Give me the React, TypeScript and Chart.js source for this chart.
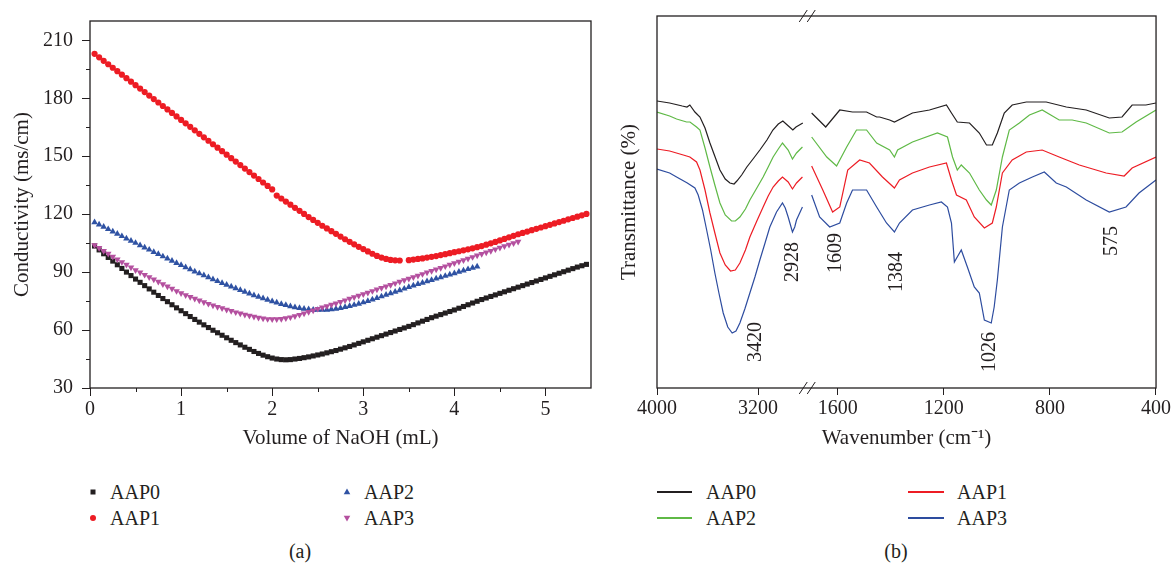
import React, { useEffect, useRef } from "react";
import { Chart, registerables } from "chart.js";

Chart.register(...registerables);

const FONT = "'Liberation Serif', 'Times New Roman', serif";
const INK = "#231f20";

// ================= Panel (a): conductometric titration =================
const VOLUME_ML = [
  0.05, 0.1, 0.15, 0.2, 0.25, 0.3, 0.35, 0.4, 0.45, 0.5,
  0.55, 0.6, 0.65, 0.7, 0.75, 0.8, 0.85, 0.9, 0.95, 1.0,
  1.05, 1.1, 1.15, 1.2, 1.25, 1.3, 1.35, 1.4, 1.45, 1.5,
  1.55, 1.6, 1.65, 1.7, 1.75, 1.8, 1.85, 1.9, 1.95, 2.0,
  2.05, 2.1, 2.15, 2.2, 2.25, 2.3, 2.35, 2.4, 2.45, 2.5,
  2.55, 2.6, 2.65, 2.7, 2.75, 2.8, 2.85, 2.9, 2.95, 3.0,
  3.05, 3.1, 3.15, 3.2, 3.25, 3.3, 3.35, 3.4, 3.45, 3.5,
  3.55, 3.6, 3.65, 3.7, 3.75, 3.8, 3.85, 3.9, 3.95, 4.0,
  4.05, 4.1, 4.15, 4.2, 4.25, 4.3, 4.35, 4.4, 4.45, 4.5,
  4.55, 4.6, 4.65, 4.7, 4.75, 4.8, 4.85, 4.9, 4.95, 5.0,
  5.05, 5.1, 5.15, 5.2, 5.25, 5.3, 5.35, 5.4, 5.45,
];

const AAP0_COND = [
  103.5, 101.5, 99.5, 97.6, 95.7, 93.8, 91.9, 90.0, 88.2, 86.4,
  84.7, 83.0, 81.3, 79.6, 77.9, 76.3, 74.7, 73.1, 71.5, 70.0,
  68.5, 67.0, 65.5, 64.1, 62.7, 61.3, 59.9, 58.6, 57.3, 56.0,
  54.7, 53.5, 52.3, 51.1, 50.0, 48.9, 47.9, 47.0, 46.2, 45.5,
  45.0, 44.7, 44.6, 44.7, 45.0, 45.3, 45.7, 46.1, 46.6, 47.1,
  47.6, 48.2, 48.8, 49.4, 50.1, 50.8, 51.5, 52.3, 53.1, 53.9,
  54.7, 55.5, 56.3, 57.1, 57.9, 58.7, 59.5, 60.3, 61.1, 61.9,
  62.8, 63.7, 64.6, 65.5, 66.4, 67.2, 68.0, 68.8, 69.6, 70.4,
  71.3, 72.2, 73.1, 74.0, 74.9, 75.8, 76.6, 77.4, 78.2, 79.0,
  79.8, 80.6, 81.4, 82.2, 83.0, 83.8, 84.6, 85.4, 86.2, 87.0,
  87.8, 88.6, 89.4, 90.2, 91.0, 91.8, 92.6, 93.3, 94.0,
];

const AAP1_COND = [
  203.0, 201.2, 199.4, 197.6, 195.8, 194.0, 192.2, 190.4, 188.6, 186.8,
  185.0, 183.2, 181.4, 179.6, 177.8, 176.0, 174.2, 172.4, 170.6, 168.8,
  167.0, 165.2, 163.4, 161.6, 159.8, 158.0, 156.2, 154.4, 152.6, 150.8,
  149.0, 147.2, 145.4, 143.6, 141.8, 140.0, 138.2, 136.4, 134.6, 132.8,
  129.6, 128.1, 126.5, 124.9, 123.3, 121.7, 120.1, 118.5, 117.0, 115.5,
  114.0, 112.6, 111.2, 109.8, 108.4, 107.0, 105.7, 104.4, 103.1, 101.9,
  100.7, 99.5, 98.4, 97.5, 96.8, 96.3, 96.1, 96.0, null, 96.2,
  96.5, 96.8, 97.1, 97.5, 97.9, 98.3, 98.8, 99.3, 99.8, 100.3,
  100.8, 101.3, 101.8, 102.3, 102.9, 103.5, 104.2, 104.9, 105.6, 106.4,
  107.2, 108.0, 108.8, 109.6, 110.3, 111.0, 111.7, 112.4, 113.1, 113.8,
  114.5, 115.2, 115.9, 116.6, 117.3, 118.0, 118.7, 119.4, 120.1,
];

const AAP2_COND = [
  115.8, 114.6, 113.4, 112.2, 111.0, 109.8, 108.6, 107.4, 106.2, 105.1,
  103.9, 102.7, 101.6, 100.4, 99.3, 98.1, 97.0, 95.8, 94.7, 93.6,
  92.5, 91.4, 90.3, 89.3, 88.3, 87.3, 86.3, 85.3, 84.3, 83.4,
  82.5, 81.6, 80.7, 79.8, 78.9, 78.0, 77.2, 76.4, 75.6, 74.9,
  74.2, 73.5, 72.9, 72.3, 71.8, 71.4, 71.0, 70.7, 70.5, 70.4,
  70.4, 70.5, 70.7, 71.0, 71.4, 71.9, 72.4, 73.0, 73.6, 74.3,
  75.0, 75.8, 76.6, 77.4, 78.2, 79.0, 79.8, 80.6, 81.4, 82.2,
  83.0, 83.8, 84.5, 85.2, 85.9, 86.6, 87.3, 88.0, 88.7, 89.4,
  90.1, 90.8, 91.5, 92.2, 92.9,
];

const AAP3_COND = [
  104.0, 102.5, 101.0, 99.5, 98.0, 96.6, 95.2, 93.8, 92.4, 91.0,
  89.8, 88.6, 87.4, 86.2, 85.0, 83.8, 82.6, 81.4, 80.2, 79.1,
  78.1, 77.1, 76.2, 75.3, 74.4, 73.6, 72.8, 72.0, 71.3, 70.6,
  69.9, 69.2, 68.6, 68.0, 67.4, 66.9, 66.4, 66.0, 65.7, 65.6,
  65.6, 65.8, 66.1, 66.6, 67.2, 67.9, 68.6, 69.4, 70.2, 71.0,
  71.7, 72.4, 73.1, 73.8, 74.6, 75.4, 76.2, 77.0, 77.8, 78.6,
  79.4, 80.2, 81.0, 81.8, 82.6, 83.4, 84.2, 85.0, 85.8, 86.6,
  87.4, 88.2, 89.0, 89.8, 90.6, 91.4, 92.2, 93.0, 93.8, 94.6,
  95.4, 96.2, 97.0, 97.8, 98.6, 99.4, 100.2, 101.0, 101.8, 102.6,
  103.4, 104.2, 105.0, 105.8,
];

const A_X_TICKS = [0, 1, 2, 3, 4, 5];
const A_X_MINOR = [0.5, 1.5, 2.5, 3.5, 4.5];
const A_Y_TICKS = [30, 60, 90, 120, 150, 180, 210];
const A_Y_MINOR = [45, 75, 105, 135, 165, 195];
const SERIES_NAMES = ["AAP0", "AAP1", "AAP2", "AAP3"];

// ================= Panel (b): FTIR spectra =================
const AAP0_WN = [
  4000, 3900, 3800, 3763, 3740, 3700, 3660, 3620, 3581, 3540, 3502, 3460, 3423, 3390, 3368, 3330, 3289, 3240,
  3186, 3130, 3083, 3040, 3004, 2960, 2925, 2900, 2846,
  1698, 1645, 1592, 1544, 1491, 1453, 1442, 1404, 1386, 1318, 1254, 1190, 1171, 1149, 1103, 1066, 1039, 1017,
  998, 972, 942, 889, 814, 738, 663, 576, 528, 490, 438, 400,
];
const AAP0_T = [
  287, 285, 282, 281, 283, 276, 271, 260, 245, 231, 218, 209, 205, 204, 207, 213, 221, 229,
  238, 248, 258, 264, 267, 262, 258, 261, 265,
  275, 261, 278, 276, 276, 271, 271, 268, 266, 275, 278, 283, 275, 266, 265, 255, 243, 243,
  255, 275, 283, 286, 286, 281, 278, 270, 271, 283, 283, 285,
];

const AAP1_WN = [
  4000, 3900, 3792, 3740, 3687, 3660, 3620, 3581, 3540, 3502, 3460, 3418, 3380, 3344, 3300, 3265, 3210, 3160,
  3120, 3081, 3040, 3007, 2962, 2928, 2896, 2849,
  1698, 1656, 1619, 1592, 1562, 1517, 1480, 1431, 1386, 1367, 1318, 1254, 1190, 1171, 1152, 1115, 1085, 1047,
  1017, 1002, 979, 942, 889, 829, 765, 689, 588, 520, 490, 400,
];
const AAP1_T = [
  239, 237, 233, 231, 226, 218, 198, 175, 154, 135, 123, 117, 118, 125, 138, 151, 167, 181,
  192, 201, 207, 211, 206, 199, 205, 211,
  222, 198, 176, 181, 218, 228, 225, 211, 200, 208, 215, 221, 225, 208, 193, 188, 171, 160,
  165, 181, 215, 228, 236, 238, 231, 223, 215, 212, 220, 231,
];

const AAP2_WN = [
  4000, 3900, 3845, 3792, 3766, 3739, 3687, 3660, 3620, 3581, 3540, 3502, 3460, 3410, 3380, 3344, 3300, 3265,
  3210, 3160, 3120, 3081, 3040, 3007, 2962, 2928, 2896, 2849,
  1698, 1641, 1604, 1566, 1529, 1491, 1453, 1404, 1386, 1374, 1318, 1224, 1186, 1167, 1149, 1134, 1103, 1066, 1039, 1021,
  1002, 979, 953, 915, 877, 829, 765, 716, 663, 576, 528, 475, 400,
];
const AAP2_T = [
  276, 272, 269, 267, 266, 266, 261, 258, 240, 221, 202, 185, 173, 167, 167, 171, 179, 188,
  200, 211, 221, 231, 239, 245, 238, 229, 235, 241,
  251, 231, 222, 241, 258, 258, 245, 238, 231, 238, 246, 255, 251, 231, 218, 223, 215, 198, 188, 183,
  198, 231, 258, 265, 273, 278, 268, 268, 265, 255, 256, 266, 278,
];

const AAP3_WN = [
  4000, 3900, 3845, 3760, 3700, 3674, 3640, 3607, 3575, 3542, 3510, 3476, 3440, 3405, 3375, 3344, 3305, 3265,
  3225, 3186, 3145, 3107, 3054, 3007, 2985, 2962, 2928, 2910, 2896, 2849,
  1698, 1668, 1630, 1592, 1566, 1544, 1491, 1453, 1416, 1386, 1367, 1318, 1254, 1209, 1186, 1171, 1160, 1134, 1111, 1085,
  1066, 1047, 1021, 1010, 998, 979, 953, 915, 866, 821, 776, 738, 663, 576, 513, 464, 400,
];
const AAP3_T = [
  219, 215, 211, 205, 200, 193, 178, 158, 138, 115, 95, 75, 61, 55, 57, 65, 79, 95,
  111, 128, 145, 161, 176, 185, 180, 171, 156, 161, 168, 181,
  193, 171, 161, 165, 185, 198, 198, 181, 165, 156, 165, 178, 183, 186, 181, 165, 126, 138, 121, 101,
  95, 68, 65, 81, 108, 161, 198, 205, 211, 216, 205, 201, 188, 176, 181, 195, 208,
];

const B_X_TICKS = [4000, 3200, 1600, 1200, 800, 400];
const PEAK_LABELS = ["3420", "2928", "1609", "1384", "1026", "575"];
const PEAK_WN = [3420, 2928, 1609, 1384, 1026, 575];
const PEAK_LABEL_T = [46, 126, 135, 116, 36, 147];

const COLORS = {
  a: [INK, "#ed1c24", "#2f52a3", "#b4509f"],
  b: [INK, "#ed1c24", "#5fb946", "#2d4c9f"],
};

// broken wavenumber axis: 4000-2800 segment (compressed) and 1700-400 segment
const HIGH_SCALE = 0.1266;
const LOW_SCALE = 0.2658;
const LOW_OFFSET = 181;
function toAxis(w: number) {
  return w > 2000 ? (4000 - w) * HIGH_SCALE : LOW_OFFSET + (1600 - w) * LOW_SCALE;
}

function spectrum(wn: number[], t: number[]) {
  const pts: any[] = [];
  for (let i = 0; i < wn.length; i++) {
    if (i > 0 && wn[i - 1] > 2000 && wn[i] < 2000) {
      pts.push({ x: (toAxis(wn[i - 1]) + toAxis(wn[i])) / 2, y: null });
    }
    pts.push({ x: toAxis(wn[i]), y: t[i] });
  }
  return pts;
}

function scatterPoints(vals: (number | null)[]) {
  const pts: any[] = [];
  vals.forEach((v, i) => {
    if (v !== null) pts.push({ x: VOLUME_ML[i], y: v });
  });
  return pts;
}

const frameAPlugin = {
  id: "frameA",
  afterDraw(chart: any) {
    const { ctx, chartArea, scales } = chart;
    const { left, right, top, bottom } = chartArea;
    ctx.save();
    ctx.strokeStyle = INK;
    ctx.lineWidth = 1.3;
    ctx.strokeRect(left, top, right - left, bottom - top);
    ctx.lineWidth = 1;
    ctx.beginPath();
    for (const v of A_X_MINOR) {
      const px = Math.round(scales.x.getPixelForValue(v)) + 0.5;
      ctx.moveTo(px, bottom);
      ctx.lineTo(px, bottom + 4);
    }
    for (const v of A_Y_MINOR) {
      const py = Math.round(scales.y.getPixelForValue(v)) + 0.5;
      ctx.moveTo(left - 4, py);
      ctx.lineTo(left, py);
    }
    ctx.stroke();
    ctx.restore();
  },
};

const PEAK_DX = [25, 0, 0, 2, 0, 2];

const frameBPlugin = {
  id: "frameB",
  afterDraw(chart: any) {
    const { ctx, chartArea, scales } = chart;
    const { left, right, top, bottom } = chartArea;
    ctx.save();
    ctx.strokeStyle = INK;
    ctx.lineWidth = 1.3;
    ctx.strokeRect(left, top, right - left, bottom - top);

    // axis break marks
    const lastHigh = Math.min(...AAP0_WN.filter((w) => w > 2000));
    const firstLow = Math.max(...AAP0_WN.filter((w) => w < 2000));
    const xb = (scales.x.getPixelForValue(toAxis(lastHigh)) + scales.x.getPixelForValue(toAxis(firstLow))) / 2;
    ctx.lineWidth = 1;
    ctx.beginPath();
    for (const yy of [top, bottom]) {
      for (const off of [-4, 4]) {
        ctx.moveTo(xb + off - 4, yy + 6);
        ctx.lineTo(xb + off + 4, yy - 6);
      }
    }
    ctx.stroke();

    // peak annotations
    ctx.font = `20px ${FONT}`;
    ctx.fillStyle = INK;
    ctx.textAlign = "center";
    ctx.textBaseline = "middle";
    PEAK_LABELS.forEach((txt, i) => {
      const px = scales.x.getPixelForValue(toAxis(PEAK_WN[i])) + PEAK_DX[i];
      const py = scales.y.getPixelForValue(PEAK_LABEL_T[i]);
      ctx.save();
      ctx.translate(px, py);
      ctx.rotate(-Math.PI / 2);
      ctx.fillText(txt, 0, 0);
      ctx.restore();
    });
    ctx.restore();
  },
};

function ChartA() {
  const ref = useRef<HTMLCanvasElement>(null);
  useEffect(() => {
    Chart.defaults.font.family = FONT;
    Chart.defaults.color = INK;
    const c = new Chart(ref.current!, {
      type: "scatter",
      data: {
        datasets: [
          { label: SERIES_NAMES[0], data: scatterPoints(AAP0_COND), pointStyle: "rect", pointRadius: 3.6, backgroundColor: COLORS.a[0], borderWidth: 0, order: 3 },
          { label: SERIES_NAMES[1], data: scatterPoints(AAP1_COND), pointStyle: "circle", pointRadius: 3.1, backgroundColor: COLORS.a[1], borderWidth: 0, order: 2 },
          { label: SERIES_NAMES[2], data: scatterPoints(AAP2_COND), pointStyle: "triangle", pointRadius: 3.8, backgroundColor: COLORS.a[2], borderWidth: 0, order: 1 },
          { label: SERIES_NAMES[3], data: scatterPoints(AAP3_COND), pointStyle: "triangle", pointRotation: 180, pointRadius: 3.8, backgroundColor: COLORS.a[3], borderWidth: 0, order: 0 },
        ] as any,
      },
      options: {
        responsive: false,
        animation: false,
        events: [],
        layout: { padding: { top: 16, right: 9, left: 0, bottom: 0 } },
        plugins: { legend: { display: false }, tooltip: { enabled: false } },
        scales: {
          x: {
            type: "linear",
            min: 0,
            max: 5.5,
            afterBuildTicks: (s: any) => { s.ticks = A_X_TICKS.map((v) => ({ value: v })); },
            afterFit: (s: any) => { s.height = 72; },
            ticks: { font: { size: 20 }, color: INK, padding: 2, maxRotation: 0, autoSkip: false },
            grid: { drawOnChartArea: false, drawTicks: true, tickLength: 8, color: INK, lineWidth: 1 },
            border: { display: false },
            title: { display: true, text: "Volume of NaOH (mL)", font: { size: 21 }, color: INK, padding: { top: 0, bottom: 9 } },
          },
          y: {
            type: "linear",
            min: 30,
            max: 220,
            afterBuildTicks: (s: any) => { s.ticks = A_Y_TICKS.map((v) => ({ value: v })); },
            afterFit: (s: any) => { s.width = 90; },
            ticks: { font: { size: 20 }, color: INK, padding: 9 },
            grid: { drawOnChartArea: false, drawTicks: true, tickLength: 8, color: INK, lineWidth: 1 },
            border: { display: false },
            title: { display: true, text: "Conductivity (ms/cm)", font: { size: 21 }, color: INK, padding: { top: 10, bottom: 0 } },
          },
        },
      } as any,
      plugins: [frameAPlugin],
    });
    return () => c.destroy();
  }, []);
  return <canvas ref={ref} width={600} height={460} style={{ position: "absolute", left: 0, top: 0 }} />;
}

function ChartB() {
  const ref = useRef<HTMLCanvasElement>(null);
  useEffect(() => {
    Chart.defaults.font.family = FONT;
    Chart.defaults.color = INK;
    const series = [
      [AAP0_WN, AAP0_T],
      [AAP1_WN, AAP1_T],
      [AAP2_WN, AAP2_T],
      [AAP3_WN, AAP3_T],
    ];
    const c = new Chart(ref.current!, {
      type: "line",
      data: {
        datasets: series.map(([wn, t], i) => ({
          label: SERIES_NAMES[i],
          data: spectrum(wn as number[], t as number[]),
          borderColor: COLORS.b[i],
          borderWidth: 1.2,
          pointRadius: 0,
          fill: false,
          tension: 0,
          spanGaps: false,
        })) as any,
      },
      options: {
        responsive: false,
        animation: false,
        events: [],
        layout: { padding: { top: 16, right: 16, left: 0, bottom: 0 } },
        plugins: { legend: { display: false }, tooltip: { enabled: false } },
        scales: {
          x: {
            type: "linear",
            min: 0,
            max: 500,
            afterBuildTicks: (s: any) => { s.ticks = B_X_TICKS.map((w) => ({ value: toAxis(w) })); },
            afterFit: (s: any) => { s.height = 72; },
            ticks: {
              font: { size: 20 },
              color: INK,
              padding: 2,
              maxRotation: 0,
              autoSkip: false,
              callback: (_v: any, i: number) => String(B_X_TICKS[i]),
            },
            grid: { drawOnChartArea: false, drawTicks: true, tickLength: 7, color: INK, lineWidth: 1 },
            border: { display: false },
            title: { display: true, text: "Wavenumber (cm⁻¹)", font: { size: 21 }, color: INK, padding: { top: 0, bottom: 9 } },
          },
          y: {
            type: "linear",
            min: 0,
            max: 372,
            afterFit: (s: any) => { s.width = 57; },
            ticks: { display: false },
            grid: { display: false },
            border: { display: false },
            title: { display: true, text: "Transmittance (%)", font: { size: 21 }, color: INK, padding: { top: 17, bottom: 0 } },
          },
        },
      } as any,
      plugins: [frameBPlugin],
    });
    return () => c.destroy();
  }, []);
  return <canvas ref={ref} width={573} height={460} style={{ position: "absolute", left: 600, top: 0 }} />;
}

const textStyle: React.CSSProperties = {
  position: "absolute",
  fontFamily: FONT,
  fontSize: 20,
  lineHeight: "20px",
  color: INK,
  whiteSpace: "nowrap",
};

function Label({ text, left, cy }: { text: string; left: number; cy: number }) {
  return <span style={{ ...textStyle, left, top: cy - 10 }}>{text}</span>;
}

function Marker({ kind, cx, cy, color }: { kind: string; cx: number; cy: number; color: string }) {
  const s = 10;
  let shape: any = null;
  if (kind === "rect") shape = <rect x={2.5} y={2.5} width={5} height={5} fill={color} />;
  if (kind === "circle") shape = <circle cx={5} cy={5} r={3} fill={color} />;
  if (kind === "up") shape = <polygon points="5,1.5 8.3,7.3 1.7,7.3" fill={color} />;
  if (kind === "down") shape = <polygon points="5,8.5 8.3,2.7 1.7,2.7" fill={color} />;
  return (
    <svg width={s} height={s} style={{ position: "absolute", left: cx - s / 2, top: cy - s / 2 }}>
      {shape}
    </svg>
  );
}

function LineSwatch({ left, width, cy, color }: { left: number; width: number; cy: number; color: string }) {
  return <div style={{ position: "absolute", left, top: cy - 0.75, width, height: 1.5, background: color }} />;
}

export default function App() {
  const row1 = 492;
  const row2 = 518;
  return (
    <div style={{ position: "absolute", left: 0, top: 0, width: 1173, height: 567, background: "#fff", overflow: "hidden" }}>
      <ChartA />
      <ChartB />
      {/* legend (a) */}
      <Marker kind="rect" cx={93} cy={row1} color={COLORS.a[0]} />
      <Label text={SERIES_NAMES[0]} left={110} cy={row1} />
      <Marker kind="circle" cx={93} cy={row2} color={COLORS.a[1]} />
      <Label text={SERIES_NAMES[1]} left={110} cy={row2} />
      <Marker kind="up" cx={347} cy={row1} color={COLORS.a[2]} />
      <Label text={SERIES_NAMES[2]} left={364} cy={row1} />
      <Marker kind="down" cx={347} cy={row2} color={COLORS.a[3]} />
      <Label text={SERIES_NAMES[3]} left={364} cy={row2} />
      {/* legend (b) */}
      <LineSwatch left={657} width={35} cy={row1} color={COLORS.b[0]} />
      <Label text={SERIES_NAMES[0]} left={706} cy={row1} />
      <LineSwatch left={657} width={35} cy={row2} color={COLORS.b[2]} />
      <Label text={SERIES_NAMES[2]} left={706} cy={row2} />
      <LineSwatch left={908} width={36} cy={row1} color={COLORS.b[1]} />
      <Label text={SERIES_NAMES[1]} left={957} cy={row1} />
      <LineSwatch left={908} width={36} cy={row2} color={COLORS.b[3]} />
      <Label text={SERIES_NAMES[3]} left={957} cy={row2} />
      {/* captions */}
      <span style={{ ...textStyle, left: 300, top: 541, transform: "translateX(-50%)" }}>(a)</span>
      <span style={{ ...textStyle, left: 896, top: 541, transform: "translateX(-50%)" }}>(b)</span>
    </div>
  );
}
